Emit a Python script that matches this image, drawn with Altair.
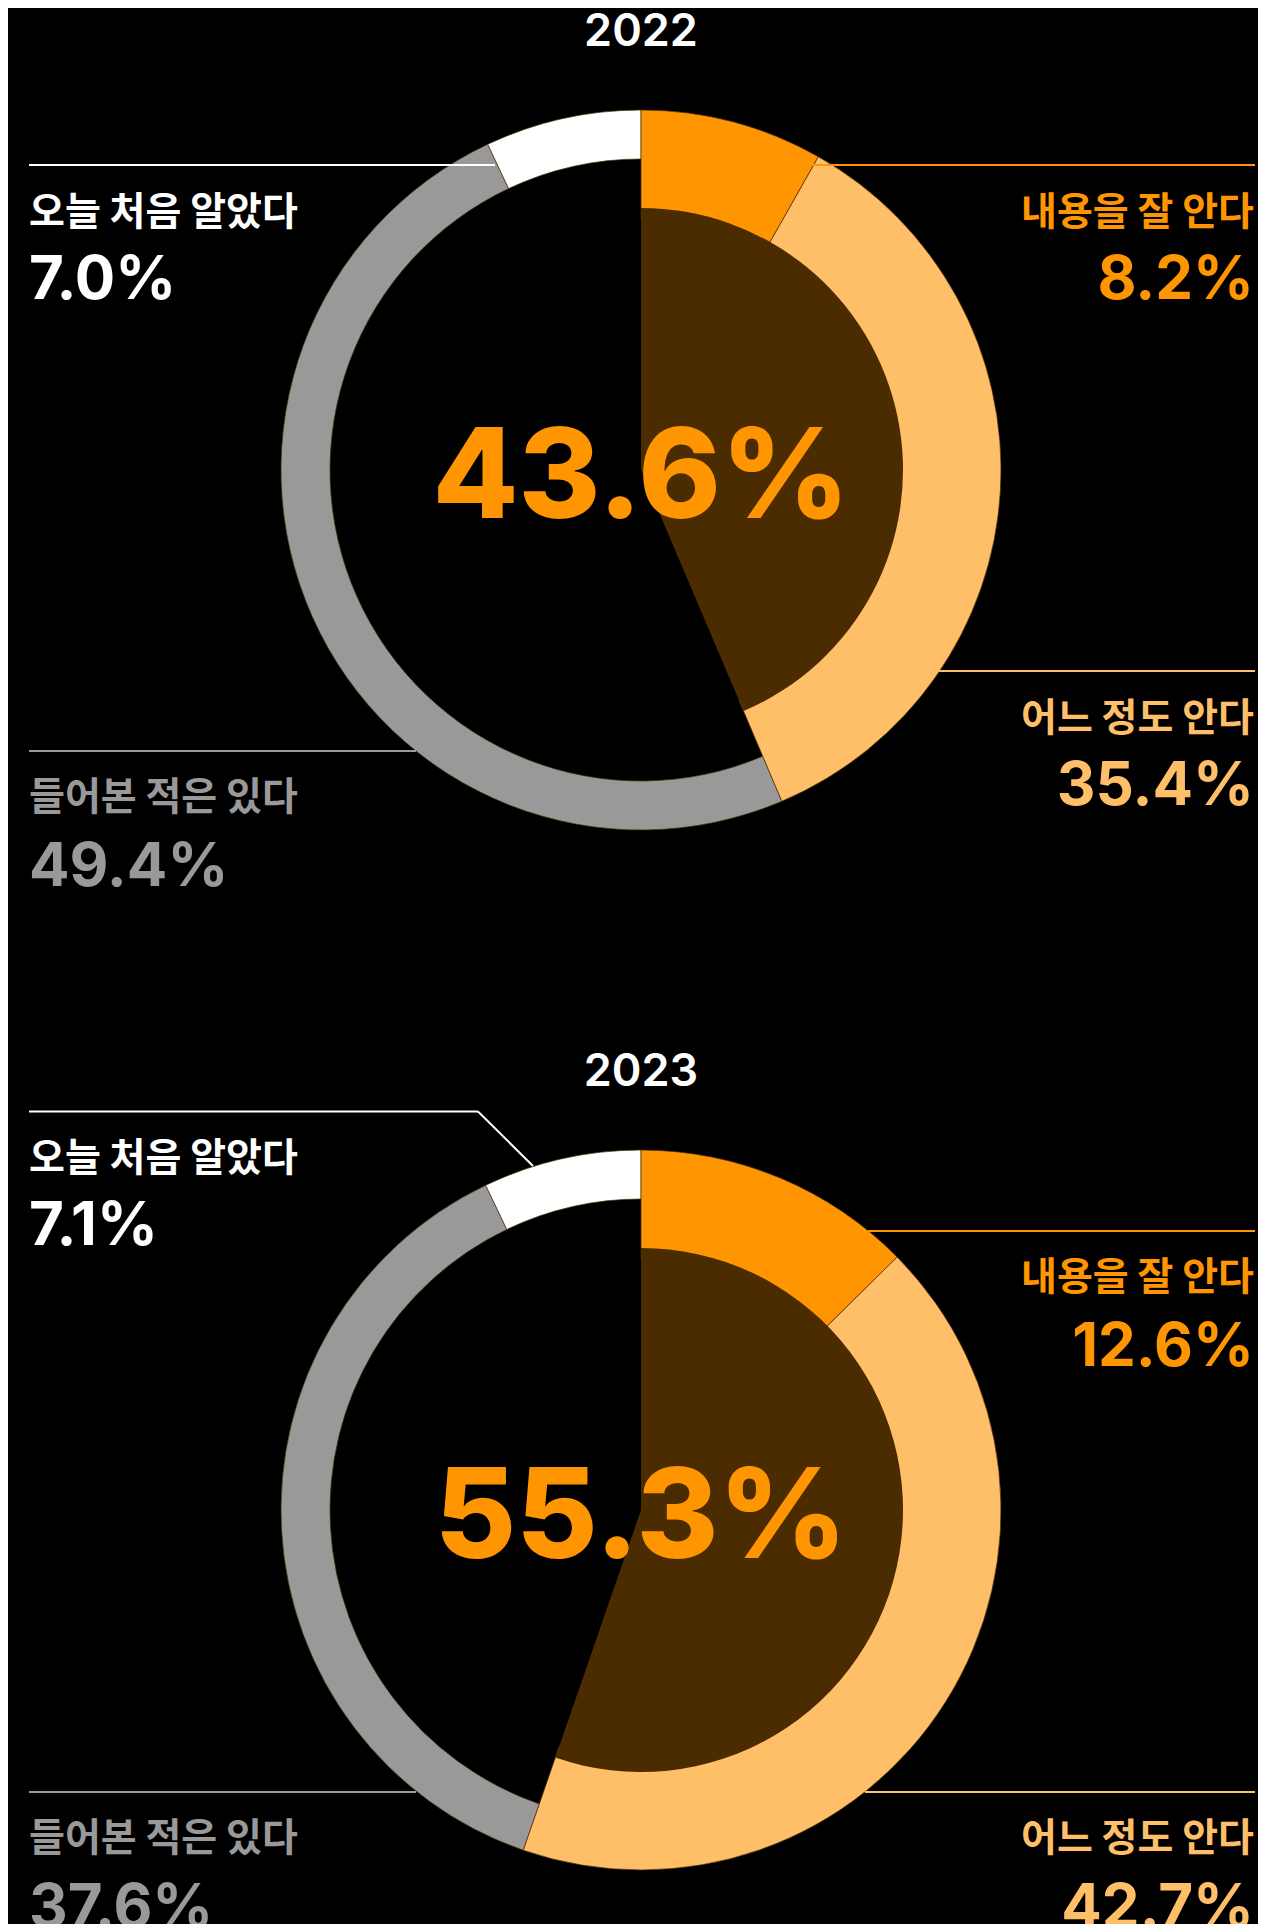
import altair as alt
import pandas as pd

# ---- data ----
categories = ["내용을 잘 안다", "어느 정도 안다", "들어본 적은 있다", "오늘 처음 알았다"]
cat_colors = ["#FF9500", "#FFBF69", "#999999", "#FFFFFF"]
years = ["2022", "2023"]
values_2022 = [8.2, 35.4, 49.4, 7.0]
values_2023 = [12.6, 42.7, 37.6, 7.1]

BROWN = "#4A2C00"
W, H = 1250, 1916
KR = "Noto Sans CJK KR"
NUM = "Inter"


def year_table(vals):
    d = pd.DataFrame({"category": categories, "value": vals})
    d["end"] = d["value"].cumsum()
    d["start"] = d["end"] - d["value"]
    d["pct"] = d["value"].map(lambda v: f"{v:.1f}%")
    return d


theta_scale = alt.Scale(domain=[0, 100])
color_scale = alt.Scale(domain=categories, range=cat_colors)
color_enc = alt.Color("category:N", scale=color_scale, legend=None)


def one_of(cats):
    return alt.FieldOneOfPredicate(field="category", oneOf=cats)


def donut(df, cx, cy, known_txt, year):
    layers = []
    layers.append(
        alt.Chart(df).transform_filter(one_of(categories[2:]))
        .mark_arc(radius=360, radius2=311, stroke=BROWN, strokeWidth=0.7)
        .encode(theta=alt.Theta("start:Q", scale=theta_scale), theta2="end:Q",
                color=color_enc, x=alt.value(cx), y=alt.value(cy))
    )
    layers.append(
        alt.Chart(df).transform_filter(one_of(categories[:2]))
        .mark_arc(radius=360, radius2=250, stroke=BROWN, strokeWidth=0.7)
        .encode(theta=alt.Theta("start:Q", scale=theta_scale), theta2="end:Q",
                color=color_enc, x=alt.value(cx), y=alt.value(cy))
    )
    layers.append(
        alt.Chart(df).transform_filter(one_of(categories[:2]))
        .transform_aggregate(s="min(start)", e="max(end)")
        .mark_arc(radius=262, color=BROWN)
        .encode(theta=alt.Theta("s:Q", scale=theta_scale), theta2="e:Q",
                x=alt.value(cx), y=alt.value(cy))
    )
    layers.append(
        alt.Chart(pd.DataFrame({"t": [known_txt]}))
        .mark_text(font=NUM, fontSize=125, fontWeight=800, align="center",
                   baseline="alphabetic", color="#FF9500")
        .encode(text="t:N", x=alt.value(cx), y=alt.value(cy + 48))
    )
    layers.append(
        alt.Chart(pd.DataFrame({"y": [year]}))
        .mark_text(font=NUM, fontSize=45, fontWeight=600, align="center",
                   baseline="alphabetic", color="#FFFFFF")
        .encode(text="y:N", x=alt.value(cx), y=alt.value(cy - 424))
    )
    return layers


def rule(df, cat, x1, y1, x2, y2):
    return (
        alt.Chart(df).transform_filter(alt.datum.category == cat)
        .mark_rule(strokeWidth=2)
        .encode(x=alt.value(x1), y=alt.value(y1), x2=alt.value(x2), y2=alt.value(y2),
                color=color_enc)
    )


def label(df, cat, x, y_name, y_num, align):
    name = (
        alt.Chart(df).transform_filter(alt.datum.category == cat)
        .mark_text(font=KR, fontSize=39, fontWeight=700, align=align, baseline="middle")
        .encode(text="category:N", x=alt.value(x), y=alt.value(y_name), color=color_enc)
    )
    num = (
        alt.Chart(df).transform_filter(alt.datum.category == cat)
        .mark_text(font=NUM, fontSize=60, fontWeight=700, align=align, baseline="alphabetic")
        .encode(text="pct:N", x=alt.value(x), y=alt.value(y_num), color=color_enc)
    )
    return [name, num]


d22 = year_table(values_2022)
d23 = year_table(values_2023)
k22 = f"{values_2022[0] + values_2022[1]:.1f}%"
k23 = f"{values_2023[0] + values_2023[1]:.1f}%"

# coordinates below are in the chart's own space (page offset of 8px removed)
L, R = 21, 1246
layers = []
# ---- 2022 ----
layers += donut(d22, 633, 462, k22, years[0])
layers += [
    rule(d22, categories[3], L, 157, 487, 157),
    rule(d22, categories[0], 802, 157, 1247, 157),
    rule(d22, categories[1], 931, 663, 1247, 663),
    rule(d22, categories[2], L, 743, 408, 743),
]
layers += label(d22, categories[3], L, 205, 291, "left")
layers += label(d22, categories[0], R, 205, 291, "right")
layers += label(d22, categories[1], R, 711, 797, "right")
layers += label(d22, categories[2], L, 790, 878, "left")

# ---- 2023 ----
layers += donut(d23, 633, 1502, k23, years[1])
layers += [
    rule(d23, categories[3], L, 1103.5, 470, 1103.5),
    rule(d23, categories[3], 470, 1103.5, 525, 1158),
    rule(d23, categories[0], 860, 1223, 1247, 1223),
    rule(d23, categories[1], 857, 1784, 1247, 1784),
    rule(d23, categories[2], L, 1784, 408, 1784),
]
layers += label(d23, categories[3], L, 1151, 1237, "left")
layers += label(d23, categories[0], R, 1270, 1358, "right")
layers += label(d23, categories[1], R, 1831, 1919, "right")
layers += label(d23, categories[2], L, 1831, 1919, "left")

chart = (
    alt.layer(*layers)
    .properties(width=W, height=H, background="#000000", padding=0, autosize="none")
    .configure_view(stroke="transparent")
)

chart.save("out.html", embed_options={"renderer": "svg", "actions": False})
